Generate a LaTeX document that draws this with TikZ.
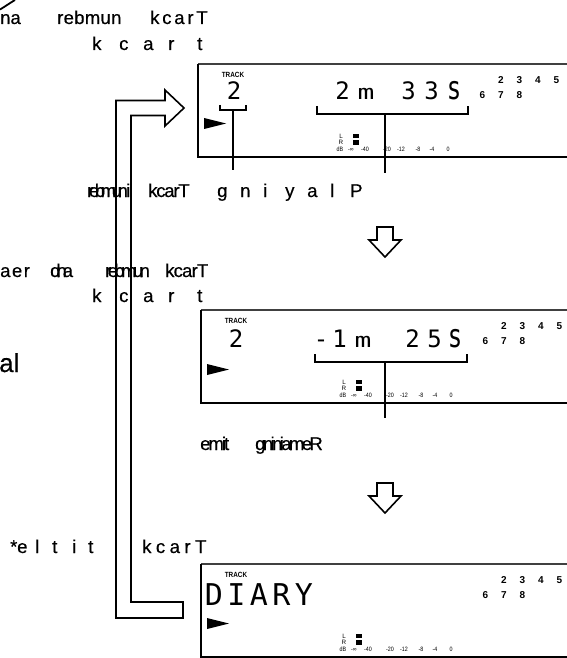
\documentclass[tikz,border=0pt]{standalone}
\usepackage{fontspec}
\setmainfont{Liberation Sans}
\newfontfamily\labfont[FakeBold=0.5]{Liberation Sans}
\newfontfamily\lcdfont{DejaVu Sans Mono}
\makeatletter
\newcommand\lsp[2]{\def\lsp@k{#1}\lsp@a#2\relax}
\def\lsp@a#1{\ifx\relax#1\else#1\kern\lsp@k\expandafter\lsp@a\fi}
\makeatother
\tikzset{
  lab/.style={font=\labfont\fontsize{18.5}{18.5}\selectfont, inner sep=0pt, anchor=base west},
  tinytxt/.style={font=\fontsize{6.3}{6.3}\selectfont, inner sep=0pt},
  trk/.style={font=\bfseries\fontsize{7.5}{7.5}\selectfont, inner sep=0pt},
  num/.style={font=\bfseries\fontsize{10}{10}\selectfont, inner sep=0pt},
  seg/.style={font=\lcdfont\fontsize{24}{24}\selectfont, inner sep=0pt, anchor=base},
  segsmall/.style={font=\lcdfont\fontsize{20}{20}\selectfont, inner sep=0pt, anchor=base},
  segbig/.style={font=\lcdfont\fontsize{30}{30}\selectfont, inner sep=0pt, anchor=base},
  framel/.style={line width=1.1pt},
  topl/.style={line width=1.6pt, black!75},
  stem/.style={line width=2.4pt},
  brk/.style={line width=1.6pt},
  hollow/.style={line width=1.6pt, line join=miter},
}
\newcommand\panel[3]{%
  \begin{scope}[shift={(#2,#3)}]
    \draw[topl] (0,0) -- (372,0);
    \draw[framel] (0,0) -- (0,93) -- (372,93);
    \node[trk] (#1trk) at (35,10.5) {\scalebox{0.85}[1]{TRACK}};
    \fill (6,54) -- (28,59.5) -- (6,65) -- cycle;
    \node[tinytxt] (#1L) at (143,72) {L};
    \node[tinytxt] (#1R) at (143,78.5) {R};
    \fill (155,69.5) rectangle (160.5,74);
    \fill (155,76) rectangle (160.5,80.5);
    \foreach \t/\x [count=\i] in {dB/142,-∞/153,-40/167,-20/189,-12/203,-8/220,-4/234,0/250}
      \node[tinytxt] (#1s\i) at (\x,85.5) {\scalebox{0.85}[1]{\t}};
    \foreach \t/\x in {2/303,3/321.5,4/340,5/358.5}
      \node[num] (#1a\t) at (\x,16) {\t};
    \foreach \t/\x in {6/284.5,7/303,8/321.5}
      \node[num] (#1b\t) at (\x,31) {\t};
  \end{scope}}
\newcommand\hdown[2]{%
  \draw[hollow] (377,#2) coordinate (#1) -- (393,#2) -- (393,#2+13) -- (401,#2+13)
    -- (385,#2+30) -- (369,#2+13) -- (377,#2+13) -- cycle;}
\begin{document}
\begin{tikzpicture}[x=1pt,y=-1pt]
\useasboundingbox (0,0) rectangle (566,658);

% top-left arc fragment
\draw[line width=1.8pt] (0,9.5) .. controls (5,6.5) and (10,3) .. (15,0);

% line A / B
\node[lab] (na) at (0,24) {na};
\node[lab] (numA) at (57,24) {\lsp{0.3pt}{rebmun}};
\node[lab] (trkA) at (150,24) {\lsp{2.8pt}{kcarT}};
\foreach \c/\x [count=\i] in {k/92,c/119,a/143,r/168,t/197}
  \node[lab] (B\i) at (\x,50) {\c};

% panel 1
\panel{p1}{198}{64}
\node[seg] (p1d) at (234,100) {2};
\node[seg] (p1t1) at (342.5,100) {2};
\node[segsmall] (p1t2) at (366,100) {\scalebox{1.4}[1]{m}};
\node[seg] (p1t3) at (408.5,100) {3};
\node[seg] (p1t4) at (431.5,100) {3};
\node[seg] (p1t5) at (454,100) {\scalebox{1}[1.35]{s}};
\draw[brk] (220,105) -- (220,110) -- (246,110) -- (246,105);
\draw[brk] (317,106) -- (317,114) -- (468,114) -- (468,106);
\coordinate (s1a) at (233,110); \coordinate (s1b) at (233,170);
\coordinate (s2a) at (385,114); \coordinate (s2b) at (385,173);
\draw[stem] (s1a) -- (s1b);
\draw[stem] (s2a) -- (s2b);

% line C
\node[lab] (numC) at (87,197) {\lsp{-4.4pt}{rebmun}};
\node[lab] (iC) at (126,197) {i};
\node[lab] (trkC) at (148,197) {\lsp{-1.2pt}{kcarT}};
\foreach \c/\x [count=\i] in {g/217,n/240,i/263,y/285,a/307,l/330,P/350}
  \node[lab] (C\i) at (\x,197) {\c};

\hdown{ar1}{227}

% line D / E
\node[lab] (aerD) at (0,277) {\lsp{1.5pt}{aer}};
\node[lab] (dnaD) at (50,277) {\lsp{-4pt}{dna}};
\node[lab] (numD) at (105,277) {\lsp{-3.6pt}{rebmun}};
\node[lab] (trkD) at (165,277) {\lsp{-0.8pt}{kcarT}};
\foreach \c/\x [count=\i] in {k/92,c/119,a/143,r/168,t/197}
  \node[lab] (E\i) at (\x,302) {\c};

\node[font=\labfont\fontsize{26}{26}\selectfont, inner sep=0pt, anchor=base west] (al) at (-1,372) {al};

% panel 2
\panel{p2}{201}{310}
\node[seg] (p2d) at (236,347) {2};
\node[seg] (p2t0) at (321,347) {-};
\node[seg] (p2t1) at (339.5,347) {1};
\node[segsmall] (p2t2) at (363,347) {\scalebox{1.4}[1]{m}};
\node[seg] (p2t3) at (412.5,347) {2};
\node[seg] (p2t4) at (434.5,347) {5};
\node[seg] (p2t5) at (455,347) {\scalebox{1}[1.35]{s}};
\draw[brk] (315,354) -- (315,362) -- (467,362) -- (467,354);
\coordinate (s3a) at (385,362); \coordinate (s3b) at (385,418);
\draw[stem] (s3a) -- (s3b);

% line F
\node[lab] (emit) at (200,450) {\lsp{-2pt}{emit}};
\node[lab] (gnin) at (255,450) {\lsp{-2.6pt}{gniniameR}};

\hdown{ar2}{483}

% line G
\foreach \c/\x [count=\i] in {*/10,e/17,l/35,t/52,i/72,t/88}
  \node[lab] (G\i) at (\x,553) {\c};
\node[lab] (trkG) at (142,553) {\lsp{4.5pt}{kcarT}};

% panel 3
\panel{p3}{201}{564}
\foreach \c/\x [count=\i] in {D/214,I/236.5,A/259,R/281.5,Y/304}
  \node[segbig] (p3c\i) at (\x,605) {\c};

% big hollow return arrow
\draw[hollow] (183,602) -- (131,602) -- (131,115.5) -- (165,115.5) -- (165,126)
  -- (184,108) -- (165,90) -- (165,100.5) -- (116,100.5) -- (116,618) -- (183,618) -- cycle;
\end{tikzpicture}
\end{document}
